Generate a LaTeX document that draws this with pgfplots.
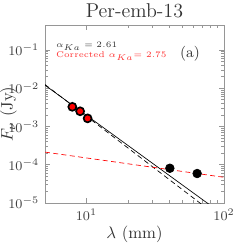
\documentclass[border=0pt]{standalone}
\usepackage{pgfplots}
\pgfplotsset{compat=1.18}
\definecolor{framegray}{RGB}{150,150,150}
\begin{document}
\begin{tikzpicture}
\useasboundingbox (-27pt,-27.6pt) rectangle (122.4pt,121.8pt);
\begin{axis}[
  at={(0,0)}, anchor=south west,
  scale only axis, width=107.4pt, height=106.8pt,
  xmode=log, ymode=log,
  xmin=5, xmax=100, ymin=1e-5, ymax=0.45,
  axis line style={framegray},
  every tick/.style={framegray},
  tick align=inside,
  major tick length=3pt, minor tick length=1.8pt,
  xtick={10,100}, ytick={1e-5,1e-4,1e-3,1e-2,1e-1},
  tick label style={font=\footnotesize, text=black!75},
  title={Per-emb-13},
  title style={font=\large, yshift=-5pt, text=black!80},
  xlabel={$\lambda$ (mm)},
  label style={font=\normalsize, text=black!80},
  xlabel style={yshift=3pt},
  clip=true,
]
\addplot[black, thin] coordinates {(5,1.2e-2) (100,4.8e-6)};
\addplot[black, thin, densely dashed] coordinates {(5,1.25e-2) (100,3.3e-6)};
\addplot[red, thin, densely dashed] coordinates {(5,2.14e-4) (100,4.7e-5)};
\addplot[only marks, mark=*, mark size=2.4pt, mark options={fill=red, draw=black, line width=1pt}] coordinates {(7.9,3.27e-3) (9.0,2.5e-3) (10.2,1.63e-3)};
\addplot[only marks, mark=*, mark size=2.6pt, mark options={fill=black, draw=black}] coordinates {(40.4,8.1e-5) (63.8,5.9e-5)};
\node[anchor=west, font=\tiny, text=black!80, inner sep=0pt] at (rel axis cs:0.06,0.88) {$\alpha_{Ka}=2.61$};
\node[anchor=west, font=\tiny, text=red!80, inner sep=0pt] at (rel axis cs:0.06,0.826) {Corrected $\alpha_{Ka}$= 2.75};
\node[font=\small, text=black!80] at (rel axis cs:0.81,0.84) {(a)};
\end{axis}
\node[rotate=90, font=\normalsize, text=black!80] at (-21.9pt,53.4pt) {$F_\nu$ (Jy)};
\end{tikzpicture}
\end{document}
